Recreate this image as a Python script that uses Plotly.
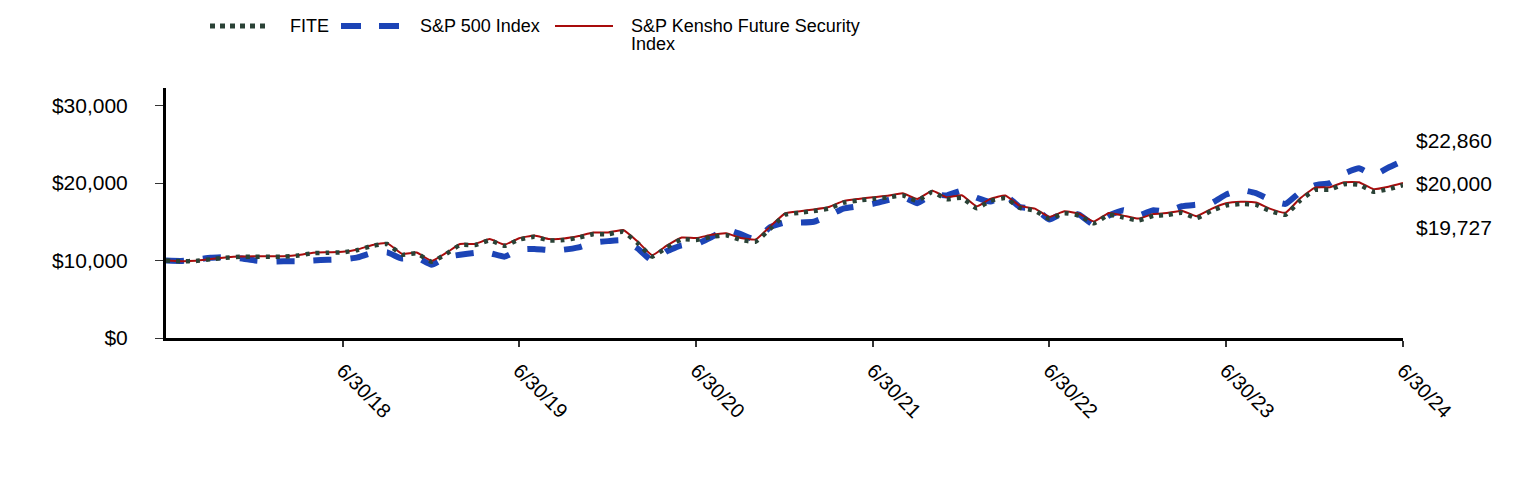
import plotly.graph_objects as go
import pandas as pd

# ---------------- data ----------------
dates = pd.date_range("2017-06-30", "2024-06-30", freq="ME")

fite = [10000, 9900, 9950, 10150, 10350, 10480, 10500, 10500, 10500, 10650,
        10950, 11000, 11050, 11350, 11900, 12130, 10750, 10930, 9850, 10900,
        12000, 12000, 12600, 11900, 12700, 13050, 12600, 12640, 12950, 13400,
        13400, 13700, 12300, 10500, 11700, 12730, 12650, 13050, 13250, 12650,
        12450, 14100, 15900, 16170, 16380, 16700, 17450, 17740, 17950, 18130,
        18400, 17700, 18850, 17900, 18100, 16730, 17700, 18050, 16800, 16440,
        15400, 16100, 15800, 14800, 15900, 15550, 15170, 15760, 15870, 16170,
        15470, 16400, 17100, 17290, 17180, 16380, 15900, 17720, 19100, 19150,
        19850, 19780, 18880, 19200, 19727]

sp500 = [10000, 9950, 10100, 10350, 10450, 10300, 10000, 9850, 9900, 9900,
         10000, 10100, 10150, 10400, 11000, 11050, 10250, 10400, 9450, 10450,
         10750, 11000, 10950, 10500, 11400, 11500, 11350, 11400, 11700, 12300,
         12500, 12600, 11600, 10000, 11200, 11950, 12100, 13000, 14000, 13400,
         12700, 14300, 14900, 14900, 15000, 15800, 16700, 17000, 17300, 17800,
         18200, 17400, 18500, 18400, 19000, 18100, 17600, 18400, 16900, 16700,
         15300, 16200, 15900, 14600, 15800, 16500, 15800, 16500, 16300, 17000,
         17200, 17400, 18500, 19100, 18700, 17800, 17300, 18800, 19700, 20000,
         21200, 21900, 21000, 22000, 22860]

kensho = [10000, 9910, 9970, 10180, 10380, 10510, 10540, 10540, 10550, 10700,
          11010, 11070, 11120, 11430, 12000, 12240, 10850, 11040, 9950, 11010,
          12130, 12140, 12760, 12050, 12870, 13230, 12780, 12830, 13150, 13610,
          13620, 13930, 12510, 10690, 11920, 12970, 12900, 13310, 13520, 12910,
          12710, 14400, 16100, 16370, 16580, 16900, 17660, 17950, 18170, 18350,
          18680, 17950, 19000, 18150, 18420, 16980, 17960, 18400, 17050, 16690,
          15640, 16340, 16040, 15030, 16140, 15790, 15410, 16010, 16120, 16430,
          15720, 16660, 17380, 17580, 17480, 16660, 16160, 18000, 19400, 19450,
          20100, 20100, 19200, 19520, 20000]

series_names = ["FITE", "S&P 500 Index", "S&P Kensho Future Security Index"]
tick_dates = ["2018-06-30", "2019-06-30", "2020-06-30", "2021-06-30",
              "2022-06-30", "2023-06-30", "2024-06-30"]
tick_labels = ["6/30/18", "6/30/19", "6/30/20", "6/30/21", "6/30/22",
               "6/30/23", "6/30/24"]
y_ticks = [0, 10000, 20000, 30000]
y_tick_labels = ["$0", "$10,000", "$20,000", "$30,000"]

# ---------------- styling ----------------
FONT = "Liberation Sans, Arial, Helvetica, sans-serif"
C_FITE = "#2a4236"
C_SP = "#1c44b6"
C_KEN = "#a80c0c"

OFF = 8  # page body margin
W, H = 1524 - OFF, 480 - OFF
L, R, T, B = 166 - OFF, 121, 88 - OFF, 142
PW, PH = W - L - R, H - T - B


def px_x(px):
    return (px - OFF - L) / PW


def px_y(py):
    return (H - B - (py - OFF)) / PH


fig = go.Figure()
fig.add_trace(go.Scatter(x=dates, y=sp500, mode="lines", name=series_names[1],
                         line=dict(color=C_SP, width=6, dash="18px,19px",
                                   shape="spline", smoothing=0.4),
                         showlegend=False))
fig.add_trace(go.Scatter(x=dates, y=kensho, mode="lines", name=series_names[2],
                         line=dict(color=C_KEN, width=2,
                                   shape="spline", smoothing=0.4),
                         showlegend=False))
fig.add_trace(go.Scatter(x=dates, y=fite, mode="lines", name=series_names[0],
                         line=dict(color=C_FITE, width=4.5, dash="4px,6px",
                                   shape="spline", smoothing=0.4),
                         showlegend=False))

# ---------------- custom legend ----------------
shapes = []
annotations = []
ly = px_y(26)
shapes.append(dict(type="line", xref="paper", yref="paper",
                   x0=px_x(210), x1=px_x(266), y0=ly, y1=ly,
                   line=dict(color=C_FITE, width=5, dash="5px,5px")))
shapes.append(dict(type="line", xref="paper", yref="paper",
                   x0=px_x(341), x1=px_x(400), y0=ly, y1=ly,
                   line=dict(color=C_SP, width=6, dash="20px,18px")))
shapes.append(dict(type="line", xref="paper", yref="paper",
                   x0=px_x(555), x1=px_x(613), y0=ly, y1=ly,
                   line=dict(color=C_KEN, width=2)))
legend_text = [(288, 26, "FITE"), (418, 26, "S&P 500 Index"),
               (629, 26, "S&P Kensho Future Security"), (629, 44, "Index")]
for xpx, ypx, txt in legend_text:
    annotations.append(dict(xref="paper", yref="paper", x=px_x(xpx), y=px_y(ypx),
                            text=txt, showarrow=False, xanchor="left",
                            yanchor="middle",
                            font=dict(family=FONT, size=18, color="#000")))

# ---------------- end value labels ----------------
end_vals = [(sp500[-1], 20), (kensho[-1], 0), (fite[-1], -42)]
for v, shift in end_vals:
    annotations.append(dict(xref="paper", yref="y", x=px_x(1414), y=v,
                            yshift=shift, text=f"${v:,}", showarrow=False,
                            xanchor="left", yanchor="middle",
                            font=dict(family=FONT, size=21, color="#000")))

fig.update_layout(
    width=W, height=H,
    margin=dict(l=L, r=R, t=T, b=B, autoexpand=False),
    plot_bgcolor="white", paper_bgcolor="white",
    font=dict(family=FONT, color="#000"),
    shapes=shapes, annotations=annotations,
    showlegend=False,
)
fig.update_xaxes(
    type="date", range=[dates[0], dates[-1]],
    tickvals=tick_dates, ticktext=tick_labels, tickangle=45,
    showgrid=False, zeroline=False,
    showline=True, linecolor="#000", linewidth=3,
    ticks="outside", ticklen=6, tickwidth=1.5, tickcolor="#333",
    ticklabelstandoff=4,
    tickfont=dict(family=FONT, size=20, color="#000"),
)
fig.update_yaxes(
    range=[0, 32260], tickvals=y_ticks, ticktext=y_tick_labels,
    showgrid=False, zeroline=False,
    showline=True, linecolor="#000", linewidth=3,
    ticks="outside", ticklen=8, tickwidth=1, tickcolor="#333",
    ticklabelstandoff=23,
    tickfont=dict(family=FONT, size=21, color="#000"),
)

fig.write_html("out.html")
